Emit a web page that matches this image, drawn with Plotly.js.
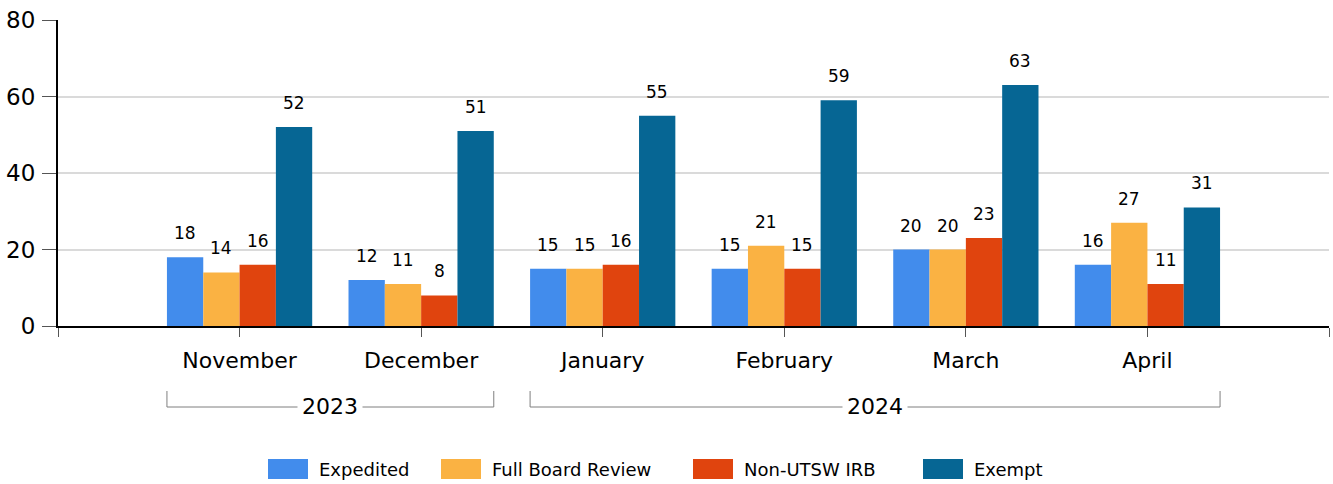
<!DOCTYPE html>
<html>
<head>
<meta charset="utf-8">
<script src="https://cdn.plot.ly/plotly-3.0.1.min.js"></script>
<style>html,body{margin:0;padding:0;background:#fff;}#chart{width:1333px;height:484px;}</style>
</head>
<body>
<div id="chart"></div>
<script>
var months = ['November', 'December', 'January', 'February', 'March', 'April'];
var years = ['2023', '2023', '2024', '2024', '2024', '2024'];
var seriesNames = ['Expedited', 'Full Board Review', 'Non-UTSW IRB', 'Exempt'];
var expedited = [18, 12, 15, 15, 20, 16];
var fullBoard = [14, 11, 15, 21, 20, 27];
var nonUTSW = [16, 8, 16, 15, 23, 11];
var exempt = [52, 51, 55, 59, 63, 31];
var colors = ['#428CEC', '#FAB243', '#E0440E', '#066694'];

var FONT = 'DejaVu Sans, Verdana, sans-serif';
var W = 1333, H = 484;
var M = {l: 58, r: 4, t: 20, b: 158};
var plotW = W - M.l - M.r, plotH = H - M.t - M.b;
function px2paperX(p) { return (p - M.l) / plotW; }
function px2paperY(p) { return (H - M.b - p) / plotH; }

var allSeries = [expedited, fullBoard, nonUTSW, exempt];
var bargap = 0.2;
var groupW = 1 - bargap;
var barW = groupW / allSeries.length;

var traces = allSeries.map(function (vals, i) {
  return {
    type: 'bar',
    name: seriesNames[i],
    x: months,
    y: vals,
    marker: {color: colors[i], line: {width: 0}},
    hoverinfo: 'y+name'
  };
});

var annotations = [];
allSeries.forEach(function (vals, s) {
  vals.forEach(function (v, c) {
    annotations.push({
      x: c - groupW / 2 + barW * (s + 0.5),
      y: v,
      xref: 'x', yref: 'y',
      text: String(v),
      showarrow: false,
      yanchor: 'middle',
      yshift: 24,
      font: {family: FONT, size: 17, color: '#000'}
    });
  });
});

// year brackets
var shapes = [];
var groups = [];
years.forEach(function (y, i) {
  if (groups.length && groups[groups.length - 1].label === y) groups[groups.length - 1].last = i;
  else groups.push({label: y, first: i, last: i});
});
var lineY = px2paperY(407), tickTopY = px2paperY(391), labelY = px2paperY(406);
groups.forEach(function (g) {
  var x0 = g.first - groupW / 2, x1 = g.last + groupW / 2;
  var ln = {color: '#7f7f7f', width: 1};
  shapes.push({type: 'line', xref: 'x', yref: 'paper', x0: x0, x1: x1, y0: lineY, y1: lineY, line: ln});
  shapes.push({type: 'line', xref: 'x', yref: 'paper', x0: x0, x1: x0, y0: lineY, y1: tickTopY, line: ln});
  shapes.push({type: 'line', xref: 'x', yref: 'paper', x0: x1, x1: x1, y0: lineY, y1: tickTopY, line: ln});
  annotations.push({
    x: (x0 + x1) / 2, y: labelY, xref: 'x', yref: 'paper',
    text: g.label, showarrow: false, yanchor: 'middle',
    bgcolor: '#ffffff', borderpad: 4,
    font: {family: FONT, size: 22, color: '#000'}
  });
});

// legend (swatch rectangles + labels)
var legendStarts = [268, 441, 693, 923];
var swW = 40, swTop = 459, swBot = 479, legMid = 469;
seriesNames.forEach(function (name, i) {
  var x0 = legendStarts[i];
  shapes.push({
    type: 'rect', xref: 'paper', yref: 'paper',
    x0: px2paperX(x0), x1: px2paperX(x0 + swW),
    y0: px2paperY(swBot), y1: px2paperY(swTop),
    fillcolor: colors[i], line: {width: 0}
  });
  annotations.push({
    x: px2paperX(x0 + swW + 9), y: px2paperY(legMid), xref: 'paper', yref: 'paper',
    xanchor: 'left', yanchor: 'middle', showarrow: false,
    text: name, font: {family: FONT, size: 18, color: '#000'}
  });
});

var tickvals = [-1].concat(months.map(function (m, i) { return i; })).concat([months.length]);
var ticktext = [''].concat(months).concat(['']);

var layout = {
  width: W, height: H,
  margin: {l: M.l, r: M.r, t: M.t, b: M.b, autoexpand: false},
  paper_bgcolor: '#fff', plot_bgcolor: '#fff',
  barmode: 'group', bargap: bargap, bargroupgap: 0,
  font: {family: FONT, color: '#000'},
  showlegend: false,
  xaxis: {
    type: 'category',
    range: [-1, months.length],
    tickmode: 'array', tickvals: tickvals, ticktext: ticktext,
    showgrid: false, zeroline: false,
    showline: true, linecolor: '#000', linewidth: 2,
    ticks: 'outside', ticklen: 9, tickcolor: '#555', tickwidth: 1,
    tickfont: {family: FONT, size: 22, color: '#000'},
    ticklabelstandoff: 5,
    fixedrange: true
  },
  yaxis: {
    range: [0, 80], dtick: 20, tick0: 0,
    showgrid: true, gridcolor: '#dadada', gridwidth: 2,
    zeroline: false,
    showline: true, linecolor: '#000', linewidth: 2,
    ticks: 'outside', ticklen: 14, tickcolor: '#555', tickwidth: 1,
    tickfont: {family: FONT, size: 23, color: '#000'},
    ticklabelstandoff: 2,
    fixedrange: true
  },
  annotations: annotations,
  shapes: shapes
};

Plotly.newPlot('chart', traces, layout, {displayModeBar: false, staticPlot: true});
</script>
</body>
</html>
